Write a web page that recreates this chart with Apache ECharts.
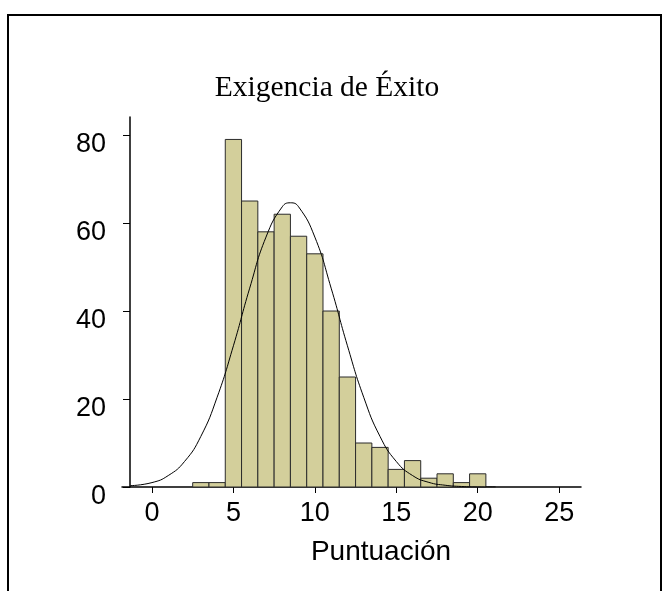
<!DOCTYPE html>
<html>
<head>
<meta charset="utf-8">
<script src="https://cdn.jsdelivr.net/npm/echarts@6/dist/echarts.min.js"></script>
<style>
  html, body { margin: 0; padding: 0; background: #fff; }
  #chart { width: 662px; height: 591px; }
</style>
</head>
<body>
<div id="chart"></div>
<script>
// histogram bins (centre of each 1-wide bin) and counts
var binCenters = [3, 4, 5, 6, 7, 8, 9, 10, 11, 12, 13, 14, 15, 16, 17, 18, 19, 20];
var binCounts  = [1, 1, 79, 65, 58, 62, 57, 53, 40, 25, 10, 9, 4, 6, 2, 3, 1, 3];

// fitted curve, points
var curveX = [-1.33, 0, 1, 2, 3, 4, 5, 6, 7, 8, 8.5, 9, 10, 11, 12, 13, 14, 15, 16, 17, 18, 19, 20, 21.1];
var curveY = [0.3, 1.0, 2.6, 5.8, 11.5, 20.4, 32.1, 45.2, 56.8, 63.7, 64.6, 63.7, 56.8, 45.2, 32.1, 20.4, 11.5, 5.8, 2.6, 1.05, 0.4, 0.12, 0.03, 0];

var xTicks = [0, 5, 10, 15, 20, 25];
var yTicks = [0, 20, 40, 60, 80];

var chart = echarts.init(document.getElementById('chart'), null, { renderer: 'canvas' });

var bars = binCenters.map(function (c, i) { return [c, binCounts[i]]; });
var curve = curveX.map(function (x, i) { return [x, curveY[i]]; });

var option = {
    animation: false,
    backgroundColor: '#fff',
    title: {
        text: 'Exigencia de Éxito',
        left: 322,
        top: 68,
        textAlign: 'center',
        textStyle: {
            fontFamily: 'Liberation Serif',
            fontWeight: 'normal',
            fontSize: 29.5,
            color: '#000'
        }
    },
    grid: {
        left: 122,
        right: 81,
        top: 117,
        bottom: 104,
        outerBoundsMode: 'none'
    },
    xAxis: {
        type: 'value',
        min: -1.84,
        max: 26.34,
        name: 'Puntuación',
        nameLocation: 'middle',
        nameGap: 51,
        nameTextStyle: {
            fontFamily: 'Liberation Sans',
            fontSize: 28,
            color: '#000',
            padding: [0, 0, 0, 59]
        },
        splitLine: { show: false },
        axisLine: { lineStyle: { color: '#000', width: 1.5 } },
        axisTick: { length: 6, customValues: xTicks, lineStyle: { color: '#000', width: 1 } },
        axisLabel: {
            customValues: xTicks,
            margin: 13,
            fontFamily: 'Liberation Sans',
            fontSize: 27,
            color: '#000'
        }
    },
    yAxis: {
        type: 'value',
        min: 0,
        max: 84.1,
        offset: -8,
        splitLine: { show: false },
        axisLine: { show: true, onZero: false, lineStyle: { color: '#000', width: 1.5 } },
        axisTick: { show: true, length: 7, customValues: yTicks, lineStyle: { color: '#000', width: 1 } },
        axisLabel: {
            customValues: yTicks,
            margin: 24,
            verticalAlign: 'top',
            lineHeight: 20,
            fontFamily: 'Liberation Sans',
            fontSize: 27,
            color: '#000'
        }
    },
    series: [
        {
            type: 'custom',
            data: bars,
            encode: { x: 0, y: 1 },
            z: 2,
            renderItem: function (params, api) {
                var x = api.value(0), y = api.value(1);
                var p0 = api.coord([x - 0.5, y]);
                var p1 = api.coord([x + 0.5, 0]);
                return {
                    type: 'rect',
                    shape: { x: p0[0], y: p0[1], width: p1[0] - p0[0], height: p1[1] - p0[1] },
                    style: { fill: '#d3cf9b', stroke: '#2b2b2b', lineWidth: 1 }
                };
            }
        },
        {
            type: 'line',
            data: curve,
            smooth: true,
            symbol: 'none',
            z: 3,
            lineStyle: { color: '#000', width: 1 }
        }
    ],
    graphic: [
        {
            type: 'rect',
            shape: { x: 8, y: 15, width: 653, height: 600 },
            style: { fill: 'none', stroke: '#000', lineWidth: 2 },
            z: 100
        }
    ]
};

chart.setOption(option);
</script>
</body>
</html>
